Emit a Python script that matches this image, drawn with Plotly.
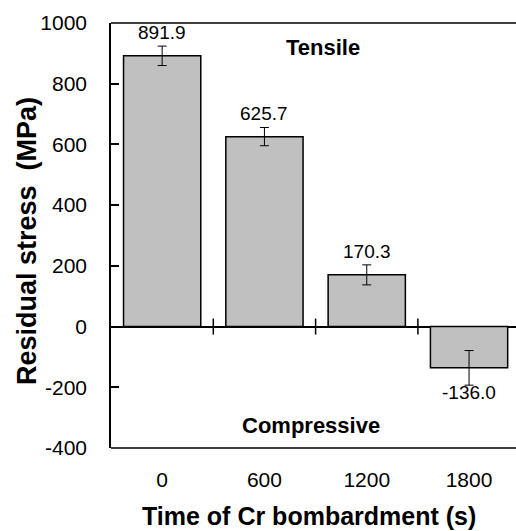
import plotly.graph_objects as go

categories = ["0", "600", "1200", "1800"]
stress = [891.9, 625.7, 170.3, -136.0]
stress_err = [32, 30, 33, 57]
y_ticks = [-400, -200, 0, 200, 400, 600, 800, 1000]
x_title = "Time of Cr bombardment (s)"
y_title = "Residual stress  (MPa)"

FONT = "Arial, 'Liberation Sans', sans-serif"

fig = go.Figure()
fig.add_trace(go.Bar(
    x=list(range(len(categories))), y=stress, width=0.755,
    marker=dict(color="#c0c0c0", line=dict(color="black", width=1.5)),
    error_y=dict(type="data", array=stress_err, visible=True, color="black",
                 thickness=1, width=4.5),
    showlegend=False,
))

annotations = []
for i, v in enumerate(stress):
    annotations.append(dict(
        x=i, y=v, xref="x", yref="y", text=f"{v:.1f}", showarrow=False,
        yanchor="middle", xanchor="center",
        yshift=23 if v >= 0 else -25, font=dict(family=FONT, size=19, color="black"),
    ))

annotations += [
    dict(x=(323 - 111) / 405, y=(448 - 47) / 425, xref="paper", yref="paper",
         xanchor="center", yanchor="middle",
         text="<b>Tensile</b>", showarrow=False, font=dict(family=FONT, size=22, color="black")),
    dict(x=(311 - 111) / 405, y=(448 - 425) / 425, xref="paper", yref="paper",
         xanchor="center", yanchor="middle",
         text="<b>Compressive</b>", showarrow=False, font=dict(family=FONT, size=22, color="black")),
    dict(x=(309 - 111) / 405, y=0, xref="paper", yref="paper", yanchor="middle",
         xanchor="center", yshift=-68, text=f"<b>{x_title}</b>", showarrow=False,
         font=dict(family=FONT, size=25, color="black")),
    dict(x=0, y=(448 - 241) / 425, xref="paper", yref="paper", xanchor="center",
         yanchor="middle", xshift=-84, textangle=-90, text=f"<b>{y_title}</b>",
         showarrow=False, font=dict(family=FONT, size=27, color="black")),
]

shapes = [
    dict(type="line", xref="paper", yref="paper", x0=0, x1=1, y0=1, y1=1,
         line=dict(color="black", width=1.5)),
    dict(type="line", xref="paper", yref="paper", x0=0, x1=1, y0=0, y1=0,
         line=dict(color="black", width=1.5)),
]
for b in [0.5, 1.5, 2.5]:
    shapes.append(dict(type="line", xref="x", yref="y", x0=b, x1=b,
                       ysizemode="pixel", yanchor=0, y0=-8, y1=8,
                       line=dict(color="black", width=1.5)))

fig.update_layout(
    width=516, height=531,
    margin=dict(l=111, r=0, t=23, b=83),
    plot_bgcolor="white", paper_bgcolor="white",
    font=dict(family=FONT, color="black"),
    annotations=annotations, shapes=shapes,
    xaxis=dict(range=[-0.5, -0.5 + 405 / 102.3],
               tickvals=list(range(len(categories))), ticktext=categories,
               showgrid=False, showline=False, ticks="", zeroline=False,
               tickfont=dict(size=21), ticklabelstandoff=17),
    yaxis=dict(range=[-400, 1000], tickvals=y_ticks, ticktext=[str(t) for t in y_ticks],
               showgrid=False,
               showline=True, linecolor="black", linewidth=1.5,
               ticks="inside", ticklen=8, tickwidth=1.5, tickcolor="black",
               zeroline=True, zerolinecolor="black", zerolinewidth=1.5,
               tickfont=dict(size=21), ticklabelstandoff=18),
)

fig.write_html("out.html")
